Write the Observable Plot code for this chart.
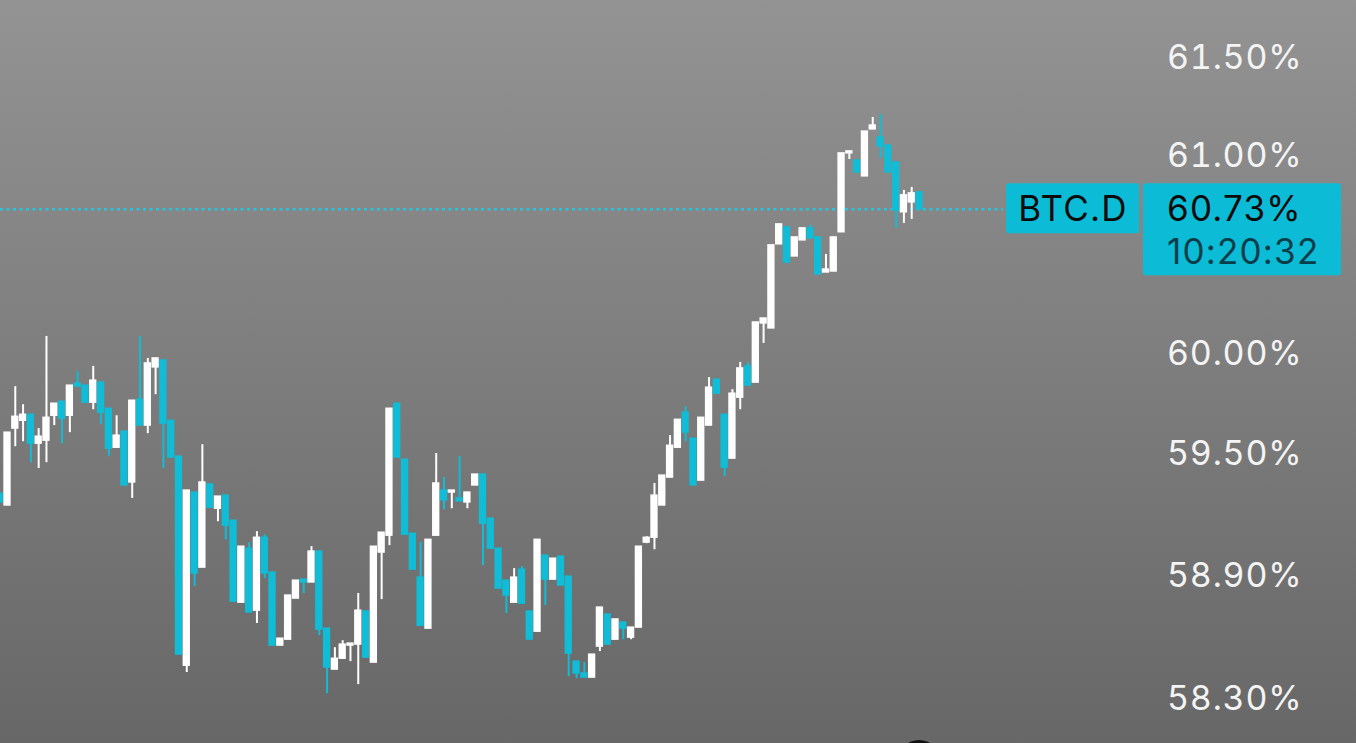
<!DOCTYPE html>
<html><head><meta charset="utf-8">
<script src="https://cdn.jsdelivr.net/npm/d3@7"></script>
<script src="https://cdn.jsdelivr.net/npm/@observablehq/plot@0.6"></script>
<style>
html,body{margin:0;padding:0;overflow:hidden;background:#7b7b7b}
#chart{position:relative;width:1356px;height:743px;background:linear-gradient(#939393,#676767)}
#chart svg{display:block}
</style></head><body><div id="chart"></div><script>
const symbol = "BTC.D";
const timeLabel = "10:20:32";
const lastPrice = 60.73;
const tickValues = [61.5, 61.0, 60.0, 59.5, 58.9, 58.3];
const tickLabels = ["61.50%", "61.00%", "60.00%", "59.50%", "58.90%", "58.30%"];

const opens = [59.307,59.248,59.629,59.668,59.698,59.554,59.569,59.693,59.763,59.693,
59.853,59.843,59.758,59.858,59.728,59.534,59.614,59.362,59.773,59.644,
59.934,59.969,59.668,59.490,58.462,59.312,58.942,59.352,59.232,59.297,
59.173,58.770,59.035,58.731,59.089,58.918,58.560,58.589,58.790,58.883,
58.869,59.021,58.643,58.443,58.496,58.560,58.565,58.727,58.477,59.016,
59.099,59.753,59.475,59.109,58.893,58.643,59.099,59.322,59.312,59.283,
59.263,59.347,59.401,59.183,59.035,58.878,58.770,58.932,58.727,58.628,
59.001,58.883,58.996,58.898,58.482,58.424,58.404,58.555,58.712,58.589,
58.673,58.599,58.648,59.065,59.089,59.248,59.386,59.534,59.708,59.579,
59.371,59.644,59.873,59.698,59.480,59.783,59.939,59.858,60.154,60.129,
60.552,60.638,60.491,60.572,60.633,60.587,60.410,60.415,60.613,61.013,
60.977,60.896,61.135,61.094,61.053,60.967,60.714,60.764,60.815];
const highs = [59.307,59.609,59.838,59.748,59.698,59.629,60.089,59.753,59.763,59.843,
59.913,59.843,59.939,59.858,59.728,59.693,59.614,59.768,60.089,59.979,
59.979,59.969,59.668,59.490,59.322,59.312,59.549,59.352,59.292,59.297,
59.173,59.045,59.065,59.119,59.104,58.918,58.594,58.805,58.878,58.883,
59.045,59.021,58.643,58.550,58.584,58.570,58.815,58.727,59.045,59.114,
59.728,59.753,59.475,59.109,59.065,59.079,59.505,59.386,59.322,59.490,
59.312,59.401,59.401,59.183,59.035,58.878,58.937,58.947,58.727,59.079,
59.001,58.986,58.996,58.898,58.482,58.477,58.516,58.746,58.712,58.688,
58.673,58.648,59.045,59.094,59.357,59.396,59.594,59.673,59.738,59.579,
59.683,59.883,59.873,59.698,59.823,59.959,59.959,60.159,60.179,60.547,
60.653,60.638,60.587,60.633,60.648,60.587,60.501,60.587,61.013,61.023,
60.977,61.124,61.196,61.211,61.053,60.967,60.825,60.840,60.815];
const lows = [59.263,59.248,59.539,59.564,59.460,59.431,59.460,59.644,59.554,59.609,
59.838,59.758,59.723,59.649,59.490,59.534,59.347,59.283,59.644,59.604,
59.798,59.431,59.485,58.516,58.429,58.849,58.942,59.237,59.168,59.079,
58.775,58.770,58.722,58.668,58.888,58.560,58.560,58.589,58.790,58.815,
58.869,58.609,58.326,58.443,58.496,58.482,58.370,58.501,58.477,58.785,
59.050,59.485,59.104,58.932,58.657,58.643,59.099,59.227,59.232,59.268,
59.232,59.347,58.952,59.035,58.839,58.717,58.770,58.765,58.589,58.628,
58.756,58.883,58.854,58.409,58.399,58.404,58.404,58.531,58.565,58.589,
58.589,58.589,58.648,59.060,59.030,59.248,59.386,59.534,59.564,59.347,
59.371,59.644,59.803,59.391,59.480,59.723,59.843,59.858,60.054,60.129,
60.552,60.460,60.491,60.572,60.582,60.400,60.410,60.415,60.613,60.982,
60.916,60.896,61.135,60.987,60.916,60.633,60.658,60.678,60.730];
const closes = [59.263,59.609,59.688,59.698,59.554,59.589,59.683,59.753,59.678,59.843,
59.838,59.758,59.868,59.708,59.529,59.594,59.347,59.768,59.644,59.954,
59.979,59.654,59.485,58.516,59.322,58.913,59.362,59.237,59.292,59.148,
58.775,59.045,58.722,59.089,58.913,58.560,58.594,58.805,58.878,58.869,
59.021,58.638,58.453,58.496,58.565,58.570,58.731,58.501,59.045,59.114,
59.728,59.485,59.104,58.932,58.657,59.079,59.357,59.273,59.322,59.268,
59.312,59.401,59.158,59.035,58.839,58.805,58.893,58.765,58.589,59.079,
58.883,58.986,58.854,58.521,58.424,58.404,58.516,58.746,58.565,58.688,
58.643,58.648,59.045,59.089,59.297,59.396,59.544,59.673,59.609,59.347,
59.683,59.833,59.803,59.435,59.803,59.929,59.843,60.159,60.179,60.547,
60.653,60.460,60.587,60.633,60.582,60.400,60.425,60.587,61.013,61.023,
60.916,61.124,61.155,61.048,60.916,60.724,60.800,60.810,60.730];

const upColor = "#ffffff";
const downColor = "#10bcd6";
const boxColor = "#0cbcd6";

const candles = opens.map((o, k) => ({t: k + 1, o, h: highs[k], l: lows[k], c: closes[k]}));
const col = d => d.c >= d.o ? upColor : downColor;

const plot = Plot.plot({
  width: 1356,
  height: 743,
  marginTop: 0, marginBottom: 0, marginLeft: 0, marginRight: 353,
  style: {background: "transparent", fontFamily: "Inter, 'Open Sans', sans-serif", color: "#f4f4f4"},
  x: {type: "linear", domain: [1, candles.length], range: [-0.8, 919], axis: null},
  y: {type: "log", domain: [58.3, 61.5], range: [698.5, 57.5], axis: null},
  marks: [
    Plot.ruleY([lastPrice], {stroke: "#26c4dc", strokeWidth: 2.5, strokeDasharray: "3,3.5"}),
    Plot.ruleX(candles, {x: "t", y1: "l", y2: "h", stroke: col, strokeWidth: 2}),
    Plot.rect(candles, {x1: d => d.t - 0.47, x2: d => d.t + 0.47, y1: "o", y2: "c", fill: col, insetTop: -0.7, insetBottom: -0.7}),
    Plot.axisY(tickValues, {anchor: "right", tickSize: 0, tickPadding: 299, textAnchor: "end",
      tickFormat: (d) => tickLabels[tickValues.indexOf(d)], fontSize: 34, fill: "#f4f4f4"})
  ]
});
document.getElementById("chart").appendChild(plot);

const svg = d3.select(plot);
svg.selectAll("[aria-label='y-axis tick label'] text").attr("letter-spacing", "0.8px");
const yP = plot.scale("y").apply(lastPrice);
const g = svg.append("g").attr("font-family", "Inter, 'Open Sans', sans-serif").attr("font-size", 35).attr("text-anchor", "start").attr("letter-spacing", "1.2px");
g.append("rect").attr("x", 1006).attr("y", yP - 25.5).attr("width", 133).attr("height", 50).attr("rx", 3).attr("fill", boxColor);
g.append("rect").attr("x", 1143).attr("y", yP - 25.5).attr("width", 198).attr("height", 92).attr("rx", 3).attr("fill", boxColor);
g.append("text").attr("x", 1073).attr("y", yP + 12).attr("text-anchor", "middle").attr("fill", "#0b0b0b").text(symbol);
g.append("text").attr("x", 1167).attr("y", yP + 12).attr("text-anchor", "start").attr("fill", "#0b0b0b").text(lastPrice.toFixed(2) + "%");
g.append("text").attr("x", 1167).attr("y", yP + 55).attr("text-anchor", "start").attr("fill", "#083e49").text(timeLabel);
g.append("circle").attr("cx", 919).attr("cy", 761).attr("r", 21).attr("fill", "#121212");
</script></body></html>
